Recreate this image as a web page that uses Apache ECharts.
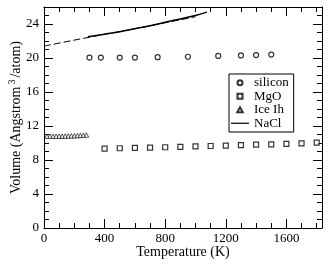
<!DOCTYPE html>
<html><head><meta charset="utf-8">
<script src="https://cdn.jsdelivr.net/npm/echarts@6/dist/echarts.min.js"></script>
<style>html,body{margin:0;padding:0;background:#fff}#c{width:332px;height:267px}</style>
</head><body><div id="c"></div>
<script>
// Data
const siliconT = [300, 375, 500, 600, 750, 950, 1150, 1300, 1400, 1500];
const siliconV = [20.05, 20.05, 20.05, 20.05, 20.1, 20.15, 20.25, 20.3, 20.35, 20.4];
const mgoT = [400, 500, 600, 700, 800, 900, 1000, 1100, 1200, 1300, 1400, 1500, 1600, 1700, 1800];
const mgoV = [9.35, 9.38, 9.42, 9.45, 9.5, 9.55, 9.6, 9.65, 9.7, 9.75, 9.8, 9.85, 9.9, 9.95, 10.05];
const iceT = [20, 40, 60, 80, 100, 120, 140, 160, 180, 200, 220, 240, 260, 280];
const iceV = [10.8, 10.8, 10.8, 10.8, 10.8, 10.81, 10.82, 10.83, 10.84, 10.85, 10.87, 10.89, 10.92, 10.95];
const naclT = [290, 400, 500, 600, 700, 800, 900, 1000, 1075];
const naclV = [22.5, 22.8, 23.1, 23.45, 23.8, 24.2, 24.6, 25.0, 25.4];
const naclFitT = [0, 300, 600, 1000];
const naclFitV = [21.4, 22.45, 23.45, 24.85];
const xMajorTicks = [0, 400, 800, 1200, 1600];
const yMajorTicks = [0, 4, 8, 12, 16, 20, 24];

const zip = (a, b) => a.map((v, i) => [v, b[i]]);
const FONT = 'Liberation Serif';
const XMAX = 1835, YMAX = 26;
const gridRect = {left: 44, right: 10, top: 7, bottom: 39, containLabel: false, outerBoundsMode: 'none'};

function xAx(gridIndex, pos, interval, len, labels, line) {
  return {
    type: 'value', gridIndex, position: pos, min: 0, max: XMAX, interval,
    axisLine: {show: line, onZero: false, lineStyle: {color: '#000', width: 1}},
    axisTick: {show: true, inside: true, length: len, lineStyle: {color: '#000', width: 1}},
    axisLabel: {show: labels, margin: 4, color: '#000', fontFamily: FONT, fontSize: 13,
      showMaxLabel: false, formatter: v => String(v)},
    splitLine: {show: false}
  };
}
function yAx(gridIndex, pos, interval, len, labels, line) {
  return {
    type: 'value', gridIndex, position: pos, min: 0, max: YMAX, interval,
    axisLine: {show: line, onZero: false, lineStyle: {color: '#000', width: 1}},
    axisTick: {show: true, inside: true, length: len, lineStyle: {color: '#000', width: 1}},
    axisLabel: {show: labels, margin: 5, color: '#000', fontFamily: FONT, fontSize: 13,
      showMaxLabel: false, formatter: v => String(v)},
    splitLine: {show: false}
  };
}

const xMain = xAx(0, 'bottom', xMajorTicks[1] - xMajorTicks[0], 9, true, true);
xMain.name = 'Temperature (K)';
xMain.nameLocation = 'middle';
xMain.nameGap = 17;
xMain.nameMoveOverlap = false;
xMain.nameTextStyle = {fontFamily: FONT, fontSize: 14, color: '#000'};
const yMain = yAx(0, 'left', yMajorTicks[1] - yMajorTicks[0], 9, true, true);
yMain.name = 'Volume (Angstrom{sup|3}/atom)';
yMain.nameLocation = 'middle';
yMain.nameGap = 18;
yMain.nameMoveOverlap = false;
yMain.nameTextStyle = {fontFamily: FONT, fontSize: 14, color: '#000',
  rich: {sup: {fontFamily: FONT, fontSize: 10, color: '#000', padding: [0, 2, 9, 2]}}};

const SQUARE = 'path://M0,0H10V10H0Z';
const TRI = 'path://M5,0L10,9H0Z';
const LINE = 'path://M0,0H24V1.6H0Z';

const option = {
  animation: false,
  backgroundColor: '#fff',
  grid: [Object.assign({}, gridRect), Object.assign({}, gridRect)],
  xAxis: [
    xMain,
    xAx(0, 'top', 400, 9, false, true),
    xAx(1, 'bottom', 100, 5, false, false),
    xAx(1, 'top', 100, 5, false, false)
  ],
  yAxis: [
    yMain,
    yAx(0, 'right', 4, 9, false, true),
    yAx(1, 'left', 1, 5, false, false),
    yAx(1, 'right', 1, 5, false, false)
  ],
  legend: {
    orient: 'vertical', left: 229, top: 74,
    padding: [2, 5, 2, 2], itemGap: 0, itemWidth: 18, itemHeight: 5,
    borderColor: '#000', borderWidth: 1, borderRadius: 0,
    textStyle: {fontFamily: FONT, fontSize: 13, color: '#000', lineHeight: 13.5},
    data: [
      {name: 'silicon', icon: 'circle'},
      {name: 'MgO', icon: SQUARE},
      {name: 'Ice Ih', icon: TRI},
      {name: 'NaCl', icon: LINE}
    ]
  },
  series: [
    {name: 'silicon', type: 'scatter', xAxisIndex: 0, yAxisIndex: 0, symbol: 'circle', symbolSize: 5,
     itemStyle: {color: '#fff', borderColor: '#000', borderWidth: 1.2}, data: zip(siliconT, siliconV)},
    {name: 'MgO', type: 'scatter', xAxisIndex: 0, yAxisIndex: 0, symbol: 'rect', symbolSize: 5,
     itemStyle: {color: '#fff', borderColor: '#000', borderWidth: 1.2}, data: zip(mgoT, mgoV)},
    {name: 'Ice Ih', type: 'scatter', xAxisIndex: 0, yAxisIndex: 0, symbol: 'triangle', symbolSize: 4.5,
     itemStyle: {color: '#fff', borderColor: '#000', borderWidth: 0.8}, data: zip(iceT, iceV)},
    {name: 'NaCl fit', type: 'line', xAxisIndex: 0, yAxisIndex: 0, symbol: 'none', smooth: true,
     lineStyle: {color: '#000', width: 1, type: [7, 3]}, data: zip(naclFitT, naclFitV)},
    {name: 'NaCl', type: 'line', xAxisIndex: 0, yAxisIndex: 0, symbol: 'none', smooth: true,
     lineStyle: {color: '#000', width: 1.5}, itemStyle: {color: '#000', borderWidth: 0}, data: zip(naclT, naclV)}
  ]
};
echarts.init(document.getElementById('c'), null, {renderer: 'canvas'}).setOption(option);
</script></body></html>
